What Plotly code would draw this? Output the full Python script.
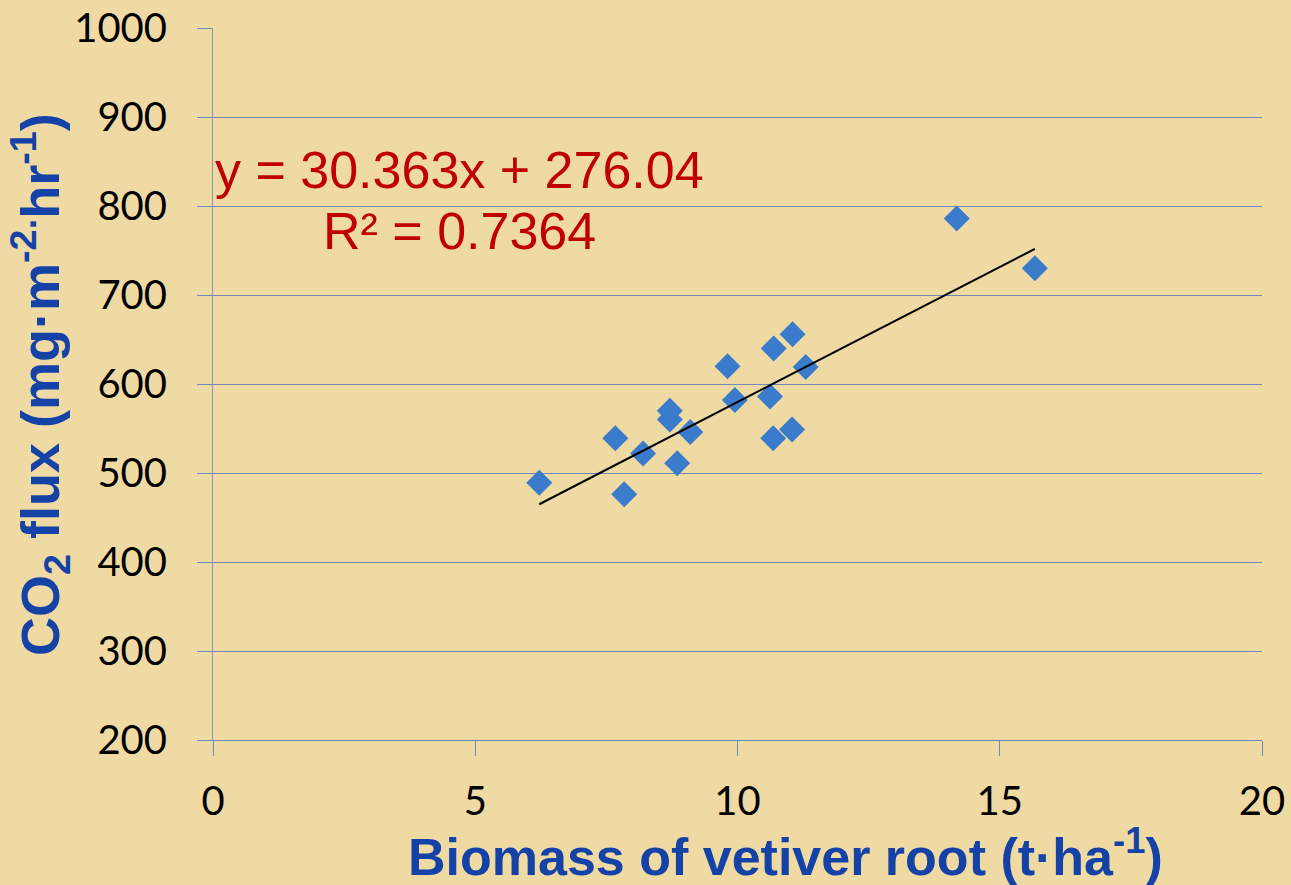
import plotly.graph_objects as go

# Data
biomass = [6.22, 7.84, 7.67, 8.20, 8.71, 8.71, 8.85, 9.10, 9.81, 9.95,
           10.69, 11.05, 11.30, 10.62, 10.68, 11.04, 14.18, 15.67]
co2_flux = [489, 476, 539, 522, 570, 560, 511, 546, 620, 582,
            640, 656, 619, 586, 539, 549, 786, 730]
fit_slope = 30.363
fit_intercept = 276.04
r_squared = 0.7364
x_ticks = [0, 5, 10, 15, 20]
y_ticks = [200, 300, 400, 500, 600, 700, 800, 900, 1000]

x_line = [min(biomass), max(biomass)]
y_line = [fit_slope * v + fit_intercept for v in x_line]

BG = "#EFDAA4"
GRID = "#7088B8"
BLUE_TITLE = "#1542A6"
RED = "#C00000"

W, H = 1291, 885
ML, MR, MT, MB = 213, 29, 28, 145

fig = go.Figure()
fig.add_trace(go.Scatter(
    x=biomass, y=co2_flux, mode="markers",
    marker=dict(symbol="diamond", size=20, color="#3A7BCB",
                line=dict(width=0)),
    showlegend=False, hoverinfo="x+y"))
fig.add_trace(go.Scatter(
    x=x_line, y=y_line, mode="lines",
    line=dict(color="black", width=2),
    showlegend=False, hoverinfo="skip"))

fig.add_annotation(x=4.70, y=840, xref="x", yref="y",
                   text=f"y = {fit_slope}x + {fit_intercept}",
                   showarrow=False, xanchor="center", yanchor="middle",
                   font=dict(family="Liberation Sans, Arial", size=52, color=RED))
fig.add_annotation(x=4.70, y=772, xref="x", yref="y",
                   text=f"R² = {r_squared}",
                   showarrow=False, xanchor="center", yanchor="middle",
                   font=dict(family="Liberation Sans, Arial", size=52, color=RED))

pw, ph = W - ML - MR, H - MT - MB
fig.add_annotation(x=(785 - ML) / pw, y=(H - MB - 853) / ph, xref="paper", yref="paper",
                   text="<b>Biomass of vetiver root (t·ha<sup>-1</sup>)</b>",
                   showarrow=False, xanchor="center", yanchor="middle",
                   font=dict(family="Liberation Sans, Arial", size=52, color=BLUE_TITLE))
fig.add_annotation(x=(40 - ML) / pw, y=(H - MB - 385) / ph, xref="paper", yref="paper",
                   text="<b>CO<sub>2</sub> flux (mg·m<sup>-2.</sup>hr<sup>-1</sup>)</b>",
                   textangle=-90,
                   showarrow=False, xanchor="center", yanchor="middle",
                   font=dict(family="Liberation Sans, Arial", size=54, color=BLUE_TITLE))

fig.update_layout(
    width=W, height=H,
    margin=dict(l=ML, r=MR, t=MT, b=MB, pad=0, autoexpand=False),
    paper_bgcolor=BG, plot_bgcolor=BG,
    xaxis=dict(range=[0, 20], tickvals=x_ticks, ticktext=[str(v) for v in x_ticks],
               showgrid=False, zeroline=False, automargin=False,
               showline=True, linecolor=GRID, linewidth=1,
               ticks="outside", ticklen=15, tickcolor=GRID, tickwidth=1,
               ticklabelstandoff=11,
               tickfont=dict(family="Lato", size=40, color="black")),
    yaxis=dict(range=[200, 1000], tickvals=y_ticks, ticktext=[str(v) for v in y_ticks],
               showgrid=True, gridcolor=GRID, gridwidth=1, zeroline=False, automargin=False,
               showline=True, linecolor="#8C98B0", linewidth=1,
               ticks="outside", ticklen=15, tickcolor=GRID, tickwidth=1,
               ticklabelstandoff=22,
               tickfont=dict(family="Lato", size=40, color="black")),
)

fig.write_html("out.html",
               config={"displayModeBar": False},
               post_script="document.body.style.margin='0';"
                           "document.documentElement.style.overflow='hidden';")
